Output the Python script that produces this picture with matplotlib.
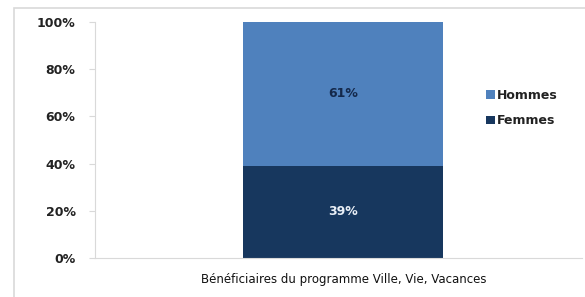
import matplotlib.pyplot as plt
from matplotlib.patches import Rectangle

categories = ["Bénéficiaires du programme Ville, Vie, Vacances"]
femmes = [39]
hommes = [61]
yticks = [0, 20, 40, 60, 80, 100]

c_hommes = "#4F81BD"
c_femmes = "#17375E"

fig = plt.figure(figsize=(5.85, 2.97), dpi=100)
fig.patches.append(Rectangle((14 / 585, -0.05), 1.0, 1 - 8 / 297 + 0.05,
                             transform=fig.transFigure, fill=False,
                             edgecolor="#d9d9d9", linewidth=1.2))

ax = fig.add_axes([95 / 585, 1 - 258 / 297, 487 / 585, (258 - 22) / 297])
x = [0]
width = 0.805
ax.bar(x, femmes, width, color=c_femmes, label="Femmes")
ax.bar(x, hommes, width, bottom=femmes, color=c_hommes, label="Hommes")

ax.text(x[0], femmes[0] / 2, f"{femmes[0]}%", ha="center", va="center",
        color="#e8eef6", fontsize=9, fontweight="bold")
ax.text(x[0], femmes[0] + hommes[0] / 2, f"{hommes[0]}%", ha="center", va="center",
        color="#14284a", fontsize=9, fontweight="bold")

ax.set_xlim(-1, 0.96)
ax.set_ylim(0, 100)
ax.set_yticks(yticks)
ax.set_yticklabels([f"{v}%" for v in yticks], fontsize=9, fontweight="bold",
                   color="#222222")
ax.set_xticks(x)
ax.set_xticklabels(categories, fontsize=8.5, color="#111111")
ax.tick_params(axis="x", length=0, pad=11)
ax.tick_params(axis="y", length=4, color="#d9d9d9", pad=10)
for s in ["top", "right"]:
    ax.spines[s].set_visible(False)
for s in ["left", "bottom"]:
    ax.spines[s].set_color("#d9d9d9")

h, l = ax.get_legend_handles_labels()
leg = ax.legend(h[::-1], l[::-1], loc="center left", bbox_to_anchor=(0.78, 0.635),
                frameon=False, handlelength=0.7, handleheight=0.7,
                handletextpad=0.2, labelspacing=1.0, prop={"weight": "bold", "size": 9})
for t in leg.get_texts():
    t.set_color("#222222")

fig.savefig("out.png", dpi=100)
